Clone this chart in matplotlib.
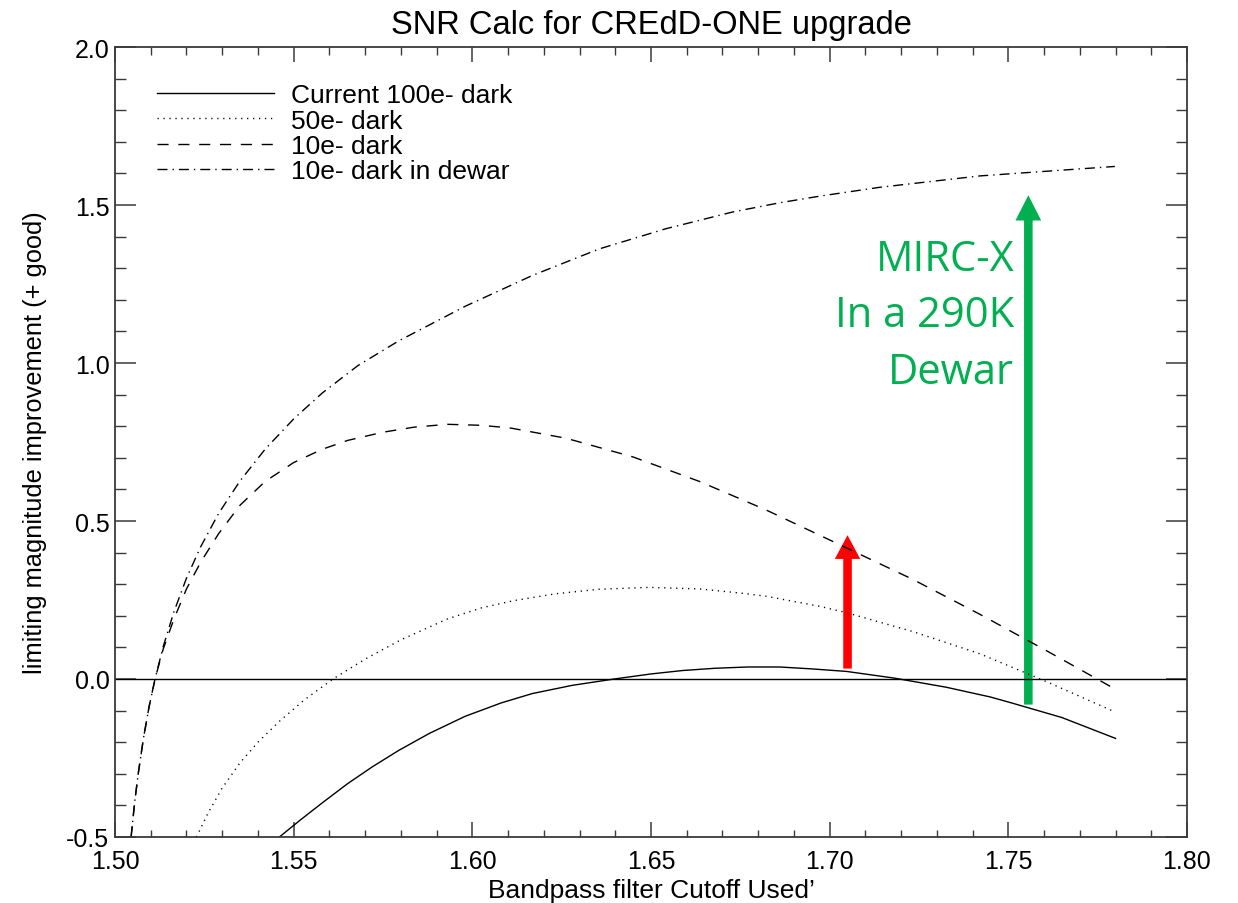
import matplotlib
matplotlib.use("Agg")
import matplotlib.pyplot as plt
from matplotlib.ticker import MultipleLocator

plt.rcParams['font.family'] = ['Liberation Sans', 'DejaVu Sans']
plt.rcParams['lines.scale_dashes'] = False

# ---- data ----
x_cur = [1.546, 1.552, 1.558, 1.565, 1.572, 1.5794, 1.588, 1.598, 1.608, 1.6168, 1.628,
         1.6397, 1.650, 1.659, 1.668, 1.677, 1.686, 1.695, 1.7047, 1.718, 1.7326, 1.745,
         1.7513, 1.765, 1.780]
y_cur = [-0.500, -0.445, -0.392, -0.332, -0.278, -0.226, -0.172, -0.118, -0.076, -0.046, -0.020,
         0.000, 0.016, 0.027, 0.034, 0.038, 0.038, 0.032, 0.024, 0.003, -0.026, -0.057,
         -0.077, -0.122, -0.188]

x_50 = [1.5228, 1.526, 1.530, 1.535, 1.540, 1.546, 1.553, 1.561, 1.570, 1.580, 1.593,
        1.6025, 1.6116, 1.6235, 1.6355, 1.6495, 1.6636, 1.675, 1.6822, 1.6972, 1.7047,
        1.7233, 1.742, 1.7606, 1.7788]
y_50 = [-0.500, -0.425, -0.345, -0.265, -0.200, -0.134, -0.066, 0.000, 0.063, 0.124, 0.190,
        0.225, 0.248, 0.270, 0.284, 0.290, 0.285, 0.272, 0.262, 0.230, 0.210,
        0.150, 0.080, -0.008, -0.099]

x_10 = [1.5045, 1.5055, 1.5065, 1.5080, 1.5095, 1.5112, 1.5135, 1.5165, 1.5200, 1.5240,
        1.5290, 1.5350, 1.5420, 1.5500, 1.5580, 1.5651, 1.5750, 1.5837, 1.5930, 1.6020,
        1.6103, 1.6262, 1.6449, 1.6636, 1.6822, 1.7000, 1.7233, 1.7420, 1.7606, 1.7788]
y_10 = [-0.500, -0.390, -0.300, -0.185, -0.090, 0.000, 0.095, 0.190, 0.285, 0.370,
        0.460, 0.550, 0.625, 0.685, 0.727, 0.755, 0.781, 0.797, 0.806, 0.803,
        0.795, 0.762, 0.703, 0.625, 0.535, 0.440, 0.315, 0.205, 0.090, -0.025]

x_dw = [1.5045, 1.5055, 1.5065, 1.5080, 1.5095, 1.5112, 1.5135, 1.5165, 1.5200, 1.5240,
        1.5290, 1.5350, 1.5420, 1.5500, 1.5580, 1.5680, 1.5794, 1.5981, 1.6168, 1.6355,
        1.6542, 1.6729, 1.6860, 1.6972, 1.7140, 1.7420, 1.7798]
y_dw = [-0.500, -0.391, -0.299, -0.185, -0.090, 0.000, 0.103, 0.213, 0.319, 0.419,
        0.524, 0.627, 0.727, 0.823, 0.905, 0.992, 1.070, 1.180, 1.277, 1.361,
        1.425, 1.478, 1.507, 1.528, 1.556, 1.592, 1.622]

labels = ["Current 100e- dark", "50e- dark", "10e- dark", "10e- dark in dewar"]

red_arrow = dict(x=1.7050, y0=0.033, y1=0.455)
green_arrow = dict(x=1.7556, y0=-0.081, y1=1.531)
green_text = "MIRC-X\nIn a 290K\nDewar"
green_text_pos = (1.7516, 1.151)

RED = "#FF0000"
GREEN = "#00B050"

fig = plt.figure(figsize=(12.38, 9.04), dpi=100)
ax = fig.add_axes([115/1238, (904-838)/904, (1187-115)/1238, (838-48)/904])

lw = 1.0
l1, = ax.plot(x_cur, y_cur, color='black', lw=lw, ls='-')
l2, = ax.plot(x_50, y_50, color='black', lw=lw, ls=(0, (0.9, 3.4)))
l3, = ax.plot(x_10, y_10, color='black', lw=lw, ls=(0, (8.0, 7.0)))
l4, = ax.plot(x_dw, y_dw, color='black', lw=lw, ls=(0, (7.2, 3.6, 1.0, 3.6)))
ax.axhline(0.0, color='black', lw=1.0)

ax.set_xlim(1.50, 1.80)
ax.set_ylim(-0.5, 2.0)
ax.xaxis.set_major_locator(MultipleLocator(0.05))
ax.xaxis.set_minor_locator(MultipleLocator(0.01))
ax.yaxis.set_major_locator(MultipleLocator(0.5))
ax.yaxis.set_minor_locator(MultipleLocator(0.1))
ax.xaxis.set_major_formatter(plt.FuncFormatter(lambda v, p: f"{v:.2f}"))
ax.yaxis.set_major_formatter(plt.FuncFormatter(lambda v, p: f"{v:.1f}"))

tc = '#3a3a3a'
for s in ax.spines.values():
    s.set_color(tc)
    s.set_linewidth(1.3)
ax.tick_params(axis='x', which='major', direction='in', length=10.8, width=1.1, color=tc,
               top=True, bottom=True, labelsize=18, pad=9)
ax.tick_params(axis='x', which='minor', direction='in', length=5.4, width=1.0, color=tc,
               top=True, bottom=True)
ax.tick_params(axis='y', which='major', direction='in', length=15, width=1.1, color=tc,
               left=True, right=True, labelsize=18, pad=4)
ax.tick_params(axis='y', which='minor', direction='in', length=8, width=1.0, color=tc,
               left=True, right=True)

ax.set_title("SNR Calc for CREdD-ONE upgrade", fontsize=23.5, pad=10)
ax.set_xlabel("Bandpass filter Cutoff Used\u2019", fontsize=19, labelpad=3)
ax.set_ylabel("limiting magnitude improvement (+ good)", fontsize=18.3, labelpad=14)

ax.legend([l1, l2, l3, l4], labels, loc='upper left', bbox_to_anchor=(0.039, 0.954),
          frameon=False, fontsize=19, handlelength=4.45, handletextpad=0.65,
          labelspacing=0.05, borderpad=0, borderaxespad=0)

ax.arrow(red_arrow['x'], red_arrow['y0'], 0, red_arrow['y1'] - red_arrow['y0'],
         width=0.0024, head_width=0.0071, head_length=0.075, length_includes_head=True,
         color=RED, lw=0)
ax.arrow(green_arrow['x'], green_arrow['y0'], 0, green_arrow['y1'] - green_arrow['y0'],
         width=0.0024, head_width=0.0072, head_length=0.08, length_includes_head=True,
         color=GREEN, lw=0)
ax.text(green_text_pos[0], green_text_pos[1], green_text, color=GREEN, fontsize=30,
        family=['Open Sans', 'DejaVu Sans'], ha='right', va='center', linespacing=1.46,
        multialignment='right')

fig.savefig("out.png", dpi=100)
